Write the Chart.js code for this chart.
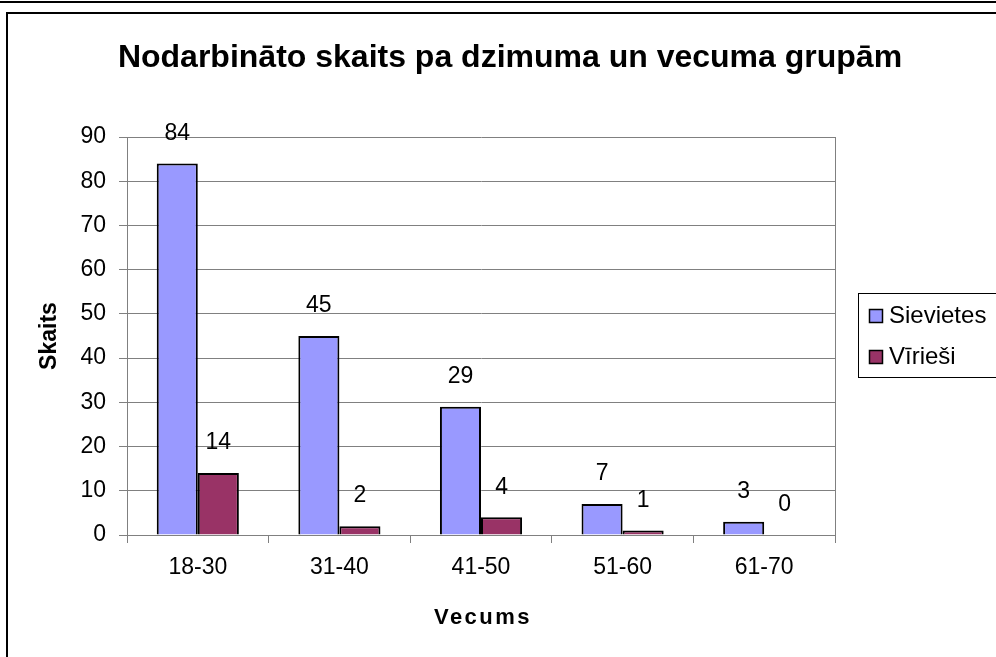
<!DOCTYPE html>
<html>
<head>
<meta charset="utf-8">
<script src="https://cdn.jsdelivr.net/npm/chart.js@4.4.0/dist/chart.umd.min.js"></script>
<style>
    body { margin: 0; background: #fff; }
    canvas { display: block; }
</style>
</head>
<body>
<canvas id="ageChart" width="996" height="657"></canvas>
<script>
const ageGroups = ['18-30', '31-40', '41-50', '51-60', '61-70'];
const women = [84, 45, 29, 7, 3];
const men = [14, 2, 4, 1, 0];
const yTicks = [0, 10, 20, 30, 40, 50, 60, 70, 80, 90];

const FONT = "'Liberation Sans', Arial, sans-serif";

// frame, titles, legend and right edge of the plot area
const framePlugin = {
    id: 'frame',
    beforeDraw(chart) {
        const ctx = chart.ctx;
        ctx.save();
        ctx.fillStyle = '#fff';
        ctx.fillRect(0, 0, chart.width, chart.height);
        ctx.strokeStyle = '#000';
        ctx.lineWidth = 2;
        ctx.beginPath();
        ctx.moveTo(0, 2); ctx.lineTo(chart.width, 2);
        ctx.moveTo(7, chart.height + 5); ctx.lineTo(7, 13); ctx.lineTo(chart.width + 5, 13);
        ctx.stroke();
        ctx.restore();
    },
    afterDraw(chart) {
        const ctx = chart.ctx;
        const a = chart.chartArea;
        ctx.save();
        ctx.strokeStyle = '#808080';
        ctx.lineWidth = 1;
        ctx.beginPath();
        ctx.moveTo(Math.round(a.right) + 0.5, a.top);
        ctx.lineTo(Math.round(a.right) + 0.5, a.bottom);
        ctx.stroke();

        ctx.fillStyle = '#000';
        ctx.textAlign = 'center';
        ctx.textBaseline = 'middle';
        ctx.font = 'bold 32px ' + FONT;
        ctx.fillText('Nodarbināto skaits pa dzimuma un vecuma grupām', 510, 58);

        ctx.font = 'bold 22px ' + FONT;
        ctx.letterSpacing = '2.5px';
        ctx.fillText('Vecums', 483, 618);

        ctx.letterSpacing = '0px';
        ctx.font = 'bold 23px ' + FONT;
        ctx.save();
        ctx.translate(50, 336);
        ctx.rotate(-Math.PI / 2);
        ctx.fillText('Skaits', 0, 0);
        ctx.restore();

        // legend
        ctx.strokeStyle = '#000';
        ctx.strokeRect(858.5, 293.5, 160, 84);
        ctx.font = '24px ' + FONT;
        ctx.textAlign = 'left';
        chart.data.datasets.forEach(function(ds, i) {
            const y = 316 + i * 41;
            ctx.fillStyle = ds.backgroundColor;
            ctx.fillRect(869, y - 7, 14, 14);
            ctx.lineWidth = 1.5;
            ctx.strokeRect(869.5, y - 6.5, 13, 13);
            ctx.fillStyle = '#000';
            ctx.fillText(ds.label, 889, y);
        });
        ctx.restore();
    }
};

// value labels above the bars
const valueLabels = {
    id: 'valueLabels',
    afterDatasetsDraw(chart) {
        const ctx = chart.ctx;
        ctx.save();
        ctx.font = '23px ' + FONT;
        ctx.fillStyle = '#000';
        ctx.textAlign = 'center';
        ctx.textBaseline = 'middle';
        chart.data.datasets.forEach(function(ds, i) {
            chart.getDatasetMeta(i).data.forEach(function(bar, j) {
                ctx.fillText(String(ds.data[j]), bar.x, bar.y - 30);
            });
        });
        ctx.restore();
    }
};

new Chart(document.getElementById('ageChart').getContext('2d'), {
    type: 'bar',
    data: {
        labels: ageGroups,
        datasets: [{
            label: 'Sievietes',
            data: women,
            backgroundColor: '#9999FF',
            borderColor: '#000',
            borderWidth: 2
        }, {
            label: 'Vīrieši',
            data: men,
            backgroundColor: '#993366',
            borderColor: '#000',
            borderWidth: 2
        }]
    },
    options: {
        responsive: false,
        animation: false,
        categoryPercentage: 0.58,
        barPercentage: 1,
        layout: {
            padding: { top: 137, left: 30, right: 161, bottom: 20 }
        },
        plugins: {
            legend: { display: false },
            tooltip: { enabled: false },
            title: { display: false }
        },
        scales: {
            x: {
                offset: true,
                grid: {
                    offset: true,
                    drawOnChartArea: false,
                    tickLength: 8,
                    color: '#808080'
                },
                border: { color: '#808080' },
                ticks: {
                    color: '#000',
                    padding: 11,
                    font: { family: FONT, size: 23 }
                },
                afterFit(scale) { scale.height = 102; }
            },
            y: {
                min: 0,
                max: 90,
                afterBuildTicks(scale) {
                    scale.ticks = yTicks.map(v => ({ value: v }));
                },
                grid: {
                    color: '#808080',
                    tickLength: 8
                },
                border: { color: '#808080' },
                ticks: {
                    color: '#000',
                    padding: 13,
                    font: { family: FONT, size: 23 }
                },
                afterFit(scale) { scale.width = 97; }
            }
        }
    },
    plugins: [framePlugin, valueLabels]
});
</script>
</body>
</html>
